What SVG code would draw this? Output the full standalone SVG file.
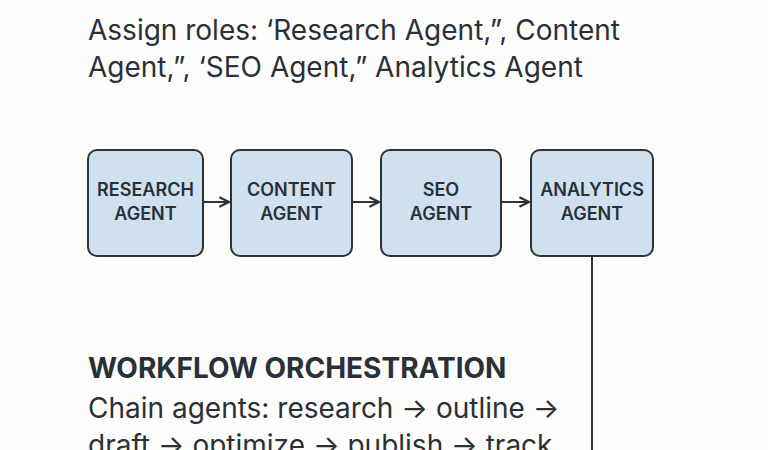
<svg xmlns="http://www.w3.org/2000/svg" width="768" height="450" viewBox="0 0 768 450">
<defs>
<style>
.t{font-family:Inter,"Liberation Sans",sans-serif;fill:#2a3038}
.big{font-size:28px}
.lbl{font-size:18px;font-weight:600;text-anchor:middle}
.box{fill:#cfe0ee;stroke:#2d333a;stroke-width:2}
.c{stroke:#2d333a;stroke-width:2;fill:none}
</style>
<marker id="a" viewBox="0 0 10 10" refX="9" refY="5" markerWidth="6" markerHeight="6" orient="auto"><path d="M1,1 L9,5 L1,9" fill="none" stroke="#2d333a" stroke-width="1.8"/></marker>
</defs>
<rect width="768" height="450" fill="#fcfcfb"/>
<text class="t big" x="88" y="40">Assign roles: ‘Research Agent,”, Content</text>
<text class="t big" x="88" y="77">Agent,”, ‘SEO Agent,”  Analytics Agent</text>
<g id="research"><rect class="box" x="88" y="150" width="115" height="106" rx="9"/><text class="t lbl" x="145.5" y="196">RESEARCH</text><text class="t lbl" x="145.5" y="220">AGENT</text></g>
<g id="content"><rect class="box" x="231" y="150" width="121" height="106" rx="9"/><text class="t lbl" x="291.5" y="196">CONTENT</text><text class="t lbl" x="291.5" y="220">AGENT</text></g>
<g id="seo"><rect class="box" x="381" y="150" width="120" height="106" rx="9"/><text class="t lbl" x="441" y="196">SEO</text><text class="t lbl" x="441" y="220">AGENT</text></g>
<g id="analytics"><rect class="box" x="531" y="150" width="122" height="106" rx="9"/><text class="t lbl" x="592" y="196">ANALYTICS</text><text class="t lbl" x="592" y="220">AGENT</text></g>
<g id="connectors">
<line class="c" x1="204" y1="202" x2="229" y2="202" marker-end="url(#a)"/>
<line class="c" x1="353" y1="202" x2="379" y2="202" marker-end="url(#a)"/>
<line class="c" x1="502" y1="202" x2="529" y2="202" marker-end="url(#a)"/>
<line class="c" x1="592" y1="256" x2="592" y2="450"/>
</g>
<text class="t" x="88" y="378" font-size="28" font-weight="700">WORKFLOW ORCHESTRATION</text>
<text class="t big" x="88" y="418">Chain agents: research → outline →</text>
<text class="t big" x="88" y="455">draft → optimize → publish → track</text>
</svg>
